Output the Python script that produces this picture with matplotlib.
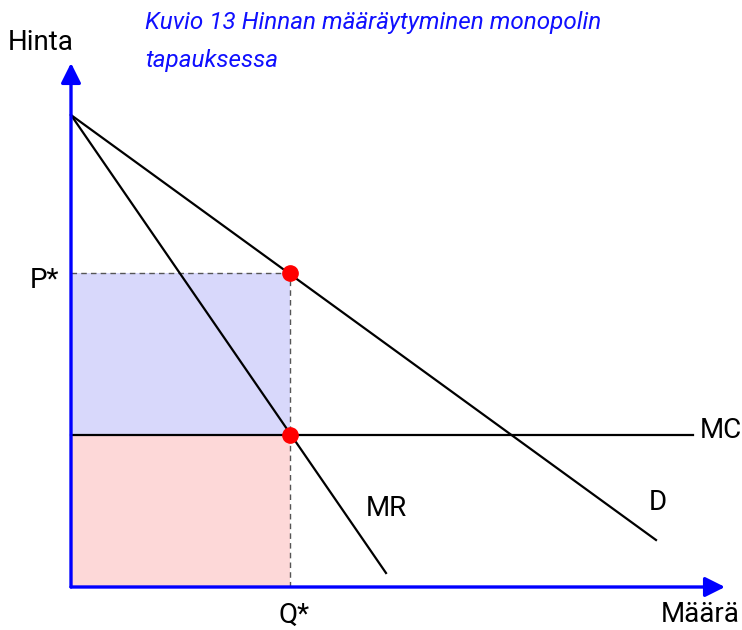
"""Monopoly pricing diagram (Kuvio 13)."""

import matplotlib.pyplot as plt

# ----- data (diagram units, origin at the axes corner) -----
d_x = [0, 585]          # demand curve D
d_y = [472, 47]
mr_x = [0, 315]         # marginal revenue MR
mr_y = [472, 14]
mc_x = [0, 622]         # marginal cost MC
mc_y = [152, 152]
q_star = 219
p_star = 314
mc_level = 152

x_axis_end = 654
y_axis_end = 524

TITLE_LINES = ["Kuvio 13 Hinnan määräytyminen monopolin", "tapauksessa"]

plt.rcParams["font.family"] = ["Roboto", "DejaVu Sans"]

fig = plt.figure(figsize=(7.42, 6.30), dpi=100)
ax = fig.add_axes([0, 0, 1, 1])
ax.set_xlim(-71, 671)
ax.set_ylim(-43, 587)
ax.axis("off")

# shaded areas
ax.fill_between([0, q_star], mc_level, p_star, color="#d8d8fb", lw=0)
ax.fill_between([0, q_star], 0, mc_level, color="#fdd8d8", lw=0)

# dashed guides
ax.plot([0, q_star], [p_star, p_star], ls=(0, (4, 3)), color="#555555", lw=1)
ax.plot([q_star, q_star], [0, p_star], ls=(0, (4, 3)), color="#555555", lw=1)

# curves
ax.plot(d_x, d_y, color="black", lw=1.6)
ax.plot(mr_x, mr_y, color="black", lw=1.6)
ax.plot(mc_x, mc_y, color="black", lw=1.6)

# axes arrows
arrow = dict(arrowstyle="-|>", color="blue", lw=2.4, mutation_scale=30,
             shrinkA=0, shrinkB=0)
ax.annotate("", xy=(0, y_axis_end), xytext=(0, 0), arrowprops=arrow)
ax.annotate("", xy=(x_axis_end, 0), xytext=(0, 0), arrowprops=arrow)

# equilibrium points
ax.plot([q_star, q_star], [p_star, mc_level], "o", color="red", ms=11, zorder=5)

# labels
fs = 20
ax.text(-30, 544, "Hinta", fontsize=fs, ha="center", va="center")
ax.text(-41, 306, "P*", fontsize=fs, ha="left", va="center")
ax.text(223, -28, "Q*", fontsize=fs, ha="center", va="center")
ax.text(629, 157, "MC", fontsize=fs, ha="left", va="center")
ax.text(295, 78, "MR", fontsize=fs, ha="left", va="center")
ax.text(578, 85, "D", fontsize=fs, ha="left", va="center")
ax.text(590, -28, "Määrä", fontsize=fs, ha="left", va="center")

ax.text(74, 565, TITLE_LINES[0], fontsize=17.5, style="italic", color="#1010ff",
        ha="left", va="center")
ax.text(74, 527, TITLE_LINES[1], fontsize=17.5, style="italic", color="#1010ff",
        ha="left", va="center")

fig.savefig("out.png", dpi=100)
